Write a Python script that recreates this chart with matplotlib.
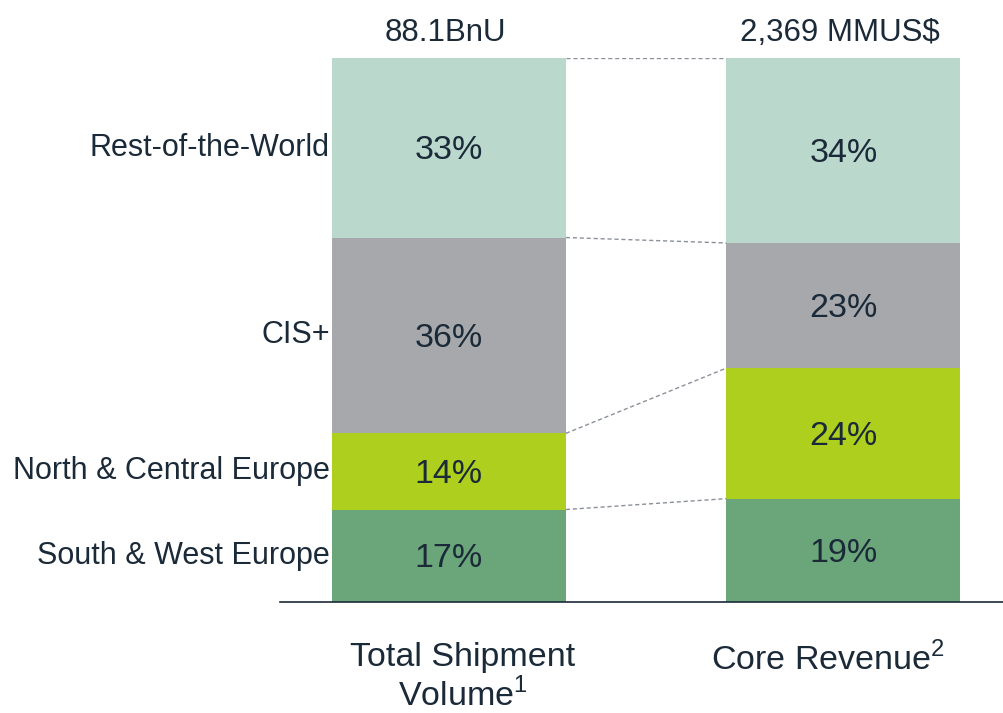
import numpy as np
import matplotlib
matplotlib.use("Agg")
import matplotlib.pyplot as plt

# ----------------------------- Data -----------------------------
regions = ["South & West Europe", "North & Central Europe", "CIS+", "Rest-of-the-World"]
volume_pct = [17, 14, 36, 33]
revenue_pct = [19, 24, 23, 34]
bar_labels = ["Total Shipment\nVolume$^{1}$", "Core Revenue$^{2}$"]
totals = ["88.1BnU", "2,369 MMUS$"]
colors = ["#6BA57A", "#AFCF1F", "#A7A8AC", "#BBD8CD"]

TXT = "#1B2A38"
plt.rcParams["font.family"] = ["Liberation Sans", "DejaVu Sans"]
plt.rcParams["mathtext.fontset"] = "custom"
plt.rcParams["mathtext.rm"] = "Liberation Sans"

fig = plt.figure(figsize=(10.04, 7.13), dpi=100)
ax = fig.add_axes([280 / 1004, 1 - 602 / 713, 724 / 1004, 544 / 713])
ax.set_xlim(-0.428, 1.407)
ax.set_ylim(0, 100)
ax.axis("off")

width = 0.593
xs = [0, 1]
series = [volume_pct, revenue_pct]

for x, vals in zip(xs, series):
    bottom = 0
    for v, c in zip(vals, colors):
        ax.bar(x, v, width=width, bottom=bottom, color=c, edgecolor="none")
        ax.text(x, bottom + v / 2 - 0.5, f"{v}%", ha="center", va="center",
                fontsize=24.5, color=TXT)
        bottom += v

# dashed connectors between the two bars
cum1 = np.cumsum(volume_pct)
cum2 = np.cumsum(revenue_pct)
for a, b in zip(cum1, cum2):
    ax.plot([xs[0] + width / 2, xs[1] - width / 2], [a, b], ls=(0, (3, 2)),
            color="#8C9199", lw=1)

# region labels on the left
bottom = 0
for name, v in zip(regions, volume_pct):
    ax.text(xs[0] - width / 2 - 0.005, bottom + v / 2, name, ha="right",
            va="center", fontsize=22, color=TXT, clip_on=False)
    bottom += v

# totals on top
for x, t in zip(xs, totals):
    ax.text(x - 0.01, 104.6, t, ha="center", va="center", fontsize=22.5,
            color=TXT, clip_on=False)

# baseline
ax.plot([-0.428, 1.407], [0, 0], color=TXT, lw=1.2, clip_on=False)

# category labels under the bars
ax.text(xs[0] + 0.035, -7.3, bar_labels[0], ha="center", va="top", fontsize=24.5,
        color=TXT, linespacing=1.18, clip_on=False)
ax.text(xs[1] - 0.04, -7.3, bar_labels[1], ha="center", va="top", fontsize=24.5,
        color=TXT, clip_on=False)

fig.savefig("out.png", dpi=100)
